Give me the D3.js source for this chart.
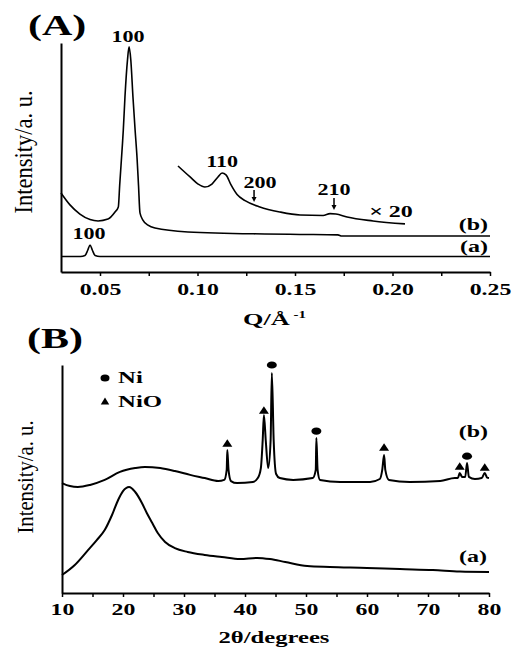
<!DOCTYPE html>
<html>
<head>
<meta charset="utf-8">
<script src="https://cdn.jsdelivr.net/npm/d3@7"></script>
<style>
  body { margin: 0; background: #fff; }
  svg { display: block; }
  text { font-family: "Liberation Serif", "Times New Roman", serif; fill: #000; }
  .b { font-weight: bold; }
  .axis path, .axis line { stroke: #000; }
  .curve { fill: none; stroke: #000; stroke-linejoin: round; }
</style>
</head>
<body>
<svg id="fig" width="518" height="649"></svg>
<script>
// ---- panel A : SAXS ----
const saxsA_q = [0.03, 0.040, 0.0423, 0.0437, 0.0449, 0.0461, 0.0475, 0.050, 0.10, 0.15, 0.20, 0.25];
const saxsA_I = [6.8, 6.8, 7.2, 9.5, 11.8, 9.5, 7.2, 6.8, 6.8, 6.8, 6.8, 6.8];

const saxsB_q = [0.03, 0.0346, 0.0397, 0.0449, 0.049, 0.0541, 0.0577, 0.0594, 0.0601, 0.06154, 0.06195, 0.0628,
                 0.0641, 0.0649, 0.0658, 0.0669, 0.068, 0.069, 0.06974, 0.0705, 0.072, 0.0746, 0.0782, 0.0951,
                 0.1346, 0.1526, 0.172, 0.174, 0.25];
const saxsB_I = [34.5, 29.3, 25.3, 22.9, 22.3, 23.1, 26.2, 28.4, 38.0, 56.3, 62.0, 76.4,
                 92.6, 98.3, 92.6, 76.4, 62.0, 49.8, 38.0, 25.8, 22.7, 20.5, 19.2, 17.5,
                 16.6, 16.4, 16.2, 15.7, 15.7];

const saxsX20_q = [0.09, 0.0962, 0.1003, 0.1038, 0.1074, 0.1105, 0.1126, 0.1146, 0.1172, 0.1203, 0.1244,
                   0.132, 0.1423, 0.1526, 0.1644, 0.168, 0.171, 0.1767, 0.19, 0.2064];
const saxsX20_I = [46.3, 41.5, 38.4, 37.1, 38.4, 41.5, 43.2, 42.4, 38.0, 33.8, 31.2,
                   28.4, 26.2, 24.9, 24.7, 25.5, 25.3, 24.0, 22.3, 21.0];

const arrowPeaks = [{label: '200', q: 0.129, I: 30.6}, {label: '210', q: 0.17, I: 27.1}];
const ticksA = [0.05, 0.10, 0.15, 0.20, 0.25];
const minorA = [0.075, 0.125, 0.175, 0.225];

// ---- panel B : XRD ----
const xrdA_t = [10, 12.1, 14.3, 15.7, 17, 18.2, 19.2, 20, 21, 22, 23.1, 23.9, 24.8, 25.7, 26.9, 28.5, 30.6,
                33.4, 36.2, 39.2, 42, 44.1, 46.6, 50.2, 53.9, 60, 65.4, 70.8, 75.2, 80];
const xrdA_I = [7.9, 12.3, 18.9, 23.2, 27.6, 34.2, 40.8, 44.7, 46.5, 44.3, 39.5, 35.1, 30.7, 26.3, 22.4, 19.7, 18,
                16.7, 15.8, 14.9, 15.4, 14.9, 13.6, 11.8, 11.4, 11, 10.5, 10.1, 9.4, 9.2];

const xrdB_t = [10, 11.3, 12.6, 14.6, 17, 19.5, 22, 23.6, 26.1, 28.5, 31, 33.4, 35.6, 36.6,
                37.0, 37.1, 37.3, 37.7, 38.7, 41.3, 42.1, 42.6, 42.9, 43.1, 43.4, 43.8,
                44.2, 44.4, 44.7, 45.1, 45.7, 47.9, 51.1, 51.6, 51.7, 51.9, 52.3, 55.6, 60.5,
                62.1, 62.5, 62.8, 63.0, 63.6, 67, 72, 74.4, 74.9, 75.2, 75.6, 76.1, 76.4, 76.7,
                77.7, 78.8, 79.3, 79.7, 80];
const xrdB_I = [48.2, 46.9, 46.5, 47.4, 49.6, 53.1, 54.8, 55.3, 54.8, 53.5, 51.8, 50.4, 49.1, 49.6,
                54, 62.7, 54, 49.1, 48.2, 48.7, 50.4, 54.8, 67, 78.1, 67, 54.8,
                67, 96.5, 67, 52.2, 50.4, 49.6, 50.4, 54, 68, 54, 49.6, 48.7, 48.7,
                50, 54, 60.5, 54, 49.6, 48.7, 49.1, 50.4, 50.4, 52.6, 50.9, 50.9, 57, 50.9,
                50, 50.4, 52.6, 50.6, 50.4];

const niPeaks = [44.4, 51.7, 76.4];
const niMarkI = [100, 71, 60];
const nioPeaks = [37.1, 43.1, 62.8, 75.2, 79.3];
const nioMarkI = [65.8, 80.3, 64, 55.7, 55.3];
const ticksB = [10, 20, 30, 40, 50, 60, 70, 80];
const minorB = [15, 25, 35, 45, 55, 65, 75];

const svg = d3.select('#fig');

function label(s, x, y, size, sx, anchor, bold) {
  return svg.append('text')
    .attr('class', bold === false ? '' : 'b')
    .attr('transform', 'translate(' + x + ',' + y + ') scale(' + sx + ',1)')
    .attr('text-anchor', anchor || 'middle')
    .style('font-size', size + 'px')
    .text(s);
}

function zip(xs, ys) { return xs.map((v, i) => [v, ys[i]]); }

function xAxes(x, yPos, major, minor, fmt, labelY) {
  let g = svg.append('g').attr('class', 'axis')
    .attr('transform', 'translate(0,' + yPos + ')')
    .call(d3.axisBottom(x).tickValues(major).tickFormat(fmt).tickSize(4).tickSizeOuter(0));
  g.select('.domain').attr('stroke-width', 2);
  g.selectAll('.tick line').attr('stroke-width', 1.5);
  g.selectAll('.tick text')
    .attr('class', 'b')
    .attr('y', labelY)
    .attr('transform', 'scale(1.4,1)')
    .style('font-size', '17px')
    .style('font-family', '"Liberation Serif", serif');
  let m = svg.append('g').attr('class', 'axis')
    .attr('transform', 'translate(0,' + yPos + ')')
    .call(d3.axisBottom(x).tickValues(minor).tickFormat('').tickSize(4).tickSizeOuter(0));
  m.select('.domain').remove();
  m.selectAll('.tick line').attr('stroke-width', 1.5);
}

function yAxis(y, xPos) {
  let g = svg.append('g').attr('class', 'axis')
    .attr('transform', 'translate(' + xPos + ',0)')
    .call(d3.axisLeft(y).ticks(0).tickSizeOuter(0));
  g.select('.domain').attr('stroke-width', 2);
}

// ---------- panel A ----------
const qToX = d3.scaleLinear().domain([0.03, 0.25]).range([61, 490]);
const iToYA = d3.scaleLinear().domain([0, 100]).range([272, 43]);
const lineA = d3.line().x(d => qToX(d[0])).y(d => iToYA(d[1])).curve(d3.curveMonotoneX);

[[saxsA_q, saxsA_I], [saxsB_q, saxsB_I], [saxsX20_q, saxsX20_I]].forEach(s => {
  svg.append('path').attr('class', 'curve').attr('stroke-width', 1.6).attr('d', lineA(zip(s[0], s[1])));
});

xAxes(qToX, 272, ticksA, minorA, d3.format('.2f'), 11);
yAxis(iToYA, 61);

label('(A)', 28, 35, 29, 1.45, 'start');
label('100', qToX(0.0649) - 1, iToYA(98.3) - 5, 16, 1.38);
label('100', qToX(0.0449) - 1, iToYA(11.8) - 6, 16, 1.38);
label('110', qToX(0.1126), iToYA(43.2) - 6, 16, 1.38);
label('200', qToX(0.129) + 6, 188, 16, 1.38);
label('210', qToX(0.17), 195, 16, 1.38);
label('\u00d7 20', 391, 217, 16, 1.5);
label('(b)', 488, 230, 16, 1.5, 'end');
label('(a)', 488, 252, 16, 1.5, 'end');

arrowPeaks.forEach(a => {
  let ax = qToX(a.q), ay = iToYA(a.I);
  svg.append('line').attr('x1', ax).attr('x2', ax).attr('y1', ay - 12).attr('y2', ay - 4)
    .attr('stroke', '#000').attr('stroke-width', 1.5);
  svg.append('path').attr('d', 'M' + (ax - 2.5) + ',' + (ay - 5) + 'L' + (ax + 2.5) + ',' + (ay - 5) + 'L' + ax + ',' + ay + 'Z')
    .attr('fill', '#000');
});

let qt = svg.append('text').attr('class', 'b')
  .attr('transform', 'translate(243,325) scale(1.5,1)')
  .style('font-size', '17.5px');
qt.append('tspan').text('Q/\u00c5');
qt.append('tspan').attr('dy', -7).style('font-size', '10px').text(' -1');

label('Intensity/a. u.', 0, 0, 22.5, 1, 'middle', false)
  .attr('transform', 'translate(32,152) rotate(-90) scale(1,1.15)');

// ---------- panel B ----------
const tToX = d3.scaleLinear().domain([10, 80]).range([62, 489]);
const iToYB = d3.scaleLinear().domain([0, 100]).range([593, 365]);
const lineB = d3.line().x(d => tToX(d[0])).y(d => iToYB(d[1])).curve(d3.curveMonotoneX);

[[xrdA_t, xrdA_I], [xrdB_t, xrdB_I]].forEach(s => {
  svg.append('path').attr('class', 'curve').attr('stroke-width', 2).attr('d', lineB(zip(s[0], s[1])));
});

xAxes(tToX, 593, ticksB, minorB, d3.format('d'), 10);
yAxis(iToYB, 62);

const tri = (cx, cy, w, h) => 'M' + (cx - w / 2) + ',' + (cy + h / 2) + 'L' + (cx + w / 2) + ',' + (cy + h / 2) + 'L' + cx + ',' + (cy - h / 2) + 'Z';

svg.append('g').selectAll('ellipse').data(zip(niPeaks, niMarkI)).enter().append('ellipse')
  .attr('cx', d => tToX(d[0])).attr('cy', d => iToYB(d[1]))
  .attr('rx', 5).attr('ry', 3.6).attr('fill', '#000');
svg.append('g').selectAll('path').data(zip(nioPeaks, nioMarkI)).enter().append('path')
  .attr('d', d => tri(tToX(d[0]), iToYB(d[1]), 10, 7.5)).attr('fill', '#000');

// legend
svg.append('ellipse').attr('cx', 105).attr('cy', 378).attr('rx', 4.5).attr('ry', 3.6).attr('fill', '#000');
svg.append('path').attr('d', tri(105, 401, 8.5, 7)).attr('fill', '#000');
label('Ni', 118, 383, 16, 1.55, 'start');
label('NiO', 118, 407, 16, 1.55, 'start');

label('(B)', 27, 348, 29, 1.45, 'start');
label('(b)', 488, 437, 16, 1.5, 'end');
label('(a)', 487, 562, 16, 1.5, 'end');
label('2\u03b8/degrees', 274, 643, 17, 1.45);

label('Intensity/a. u.', 0, 0, 20.7, 1, 'middle', false)
  .attr('transform', 'translate(33,477) rotate(-90) scale(1,1.15)');
</script>
</body>
</html>
